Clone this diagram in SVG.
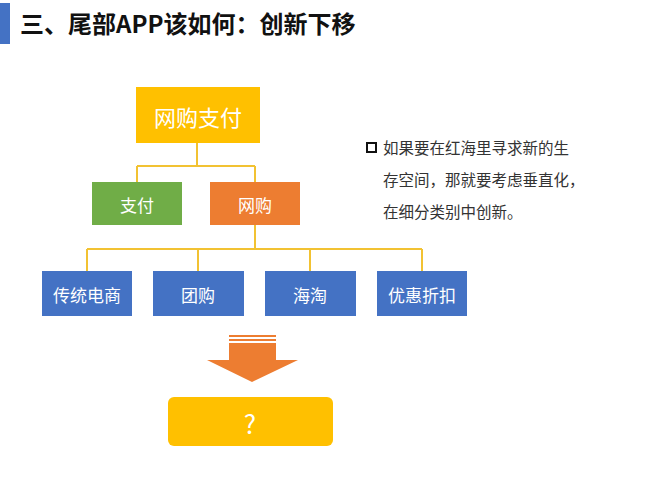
<svg xmlns="http://www.w3.org/2000/svg" width="647" height="479" viewBox="0 0 647 479">
<style>
.t{font-family:"Noto Sans CJK SC","Liberation Sans",sans-serif;fill:#fff;text-anchor:middle;dominant-baseline:central}
.b{fill:#4472c4}
.c{stroke:#f2c232;stroke-width:2;fill:none}
.p{font-family:"Noto Sans CJK SC",sans-serif;font-size:15.5px;fill:#333}
</style>
<rect width="647" height="479" fill="#fff"/>
<rect x="0" y="3" width="10" height="41" fill="#4472c4"/>
<text x="20" y="33" font-family="'Noto Sans CJK SC',sans-serif" font-size="24" font-weight="bold" fill="#111">三、尾部APP该如何：创新下移</text>
<g id="connectors">
<path class="c" d="M197 143V166M137 166H255M137 166V182M255 166V182M255 225V249M87 249H422M87 249V271M198 249V271M310 249V271M422 249V271"/>
</g>
<g id="root"><rect x="136" y="87" width="124" height="56" fill="#ffc000"/><text class="t" x="198" y="116" font-size="22">网购支付</text></g>
<g id="pay"><rect x="92" y="182" width="90" height="43" fill="#70ad47"/><text class="t" x="137" y="204" font-size="17">支付</text></g>
<g id="shop"><rect x="210" y="182" width="90" height="43" fill="#ed7d31"/><text class="t" x="255" y="204" font-size="17">网购</text></g>
<g id="n1"><rect class="b" x="42" y="271" width="90" height="45"/><text class="t" x="87" y="294" font-size="17">传统电商</text></g>
<g id="n2"><rect class="b" x="153" y="271" width="91" height="45"/><text class="t" x="198" y="294" font-size="17">团购</text></g>
<g id="n3"><rect class="b" x="265" y="271" width="91" height="45"/><text class="t" x="310" y="294" font-size="17">海淘</text></g>
<g id="n4"><rect class="b" x="377" y="271" width="90" height="45"/><text class="t" x="422" y="294" font-size="17">优惠折扣</text></g>
<g id="note">
<rect x="367" y="143" width="9" height="9" fill="none" stroke="#111" stroke-width="2"/>
<text class="p" x="383" y="154">如果要在红海里寻求新的生</text>
<text class="p" x="383" y="186">存空间，那就要考虑垂直化，</text>
<text class="p" x="383" y="218">在细分类别中创新。</text>
</g>
<g id="arrow" fill="#ed7d31">
<rect x="229" y="335" width="47" height="2"/>
<rect x="229" y="339" width="47" height="2"/>
<path d="M229 343H276V360H298L252 382L207 360H229Z"/>
</g>
<g id="q"><rect x="168" y="397" width="165" height="49" rx="6" fill="#ffc000"/><text class="t" x="250" y="422" font-size="26">?</text></g>
</svg>
